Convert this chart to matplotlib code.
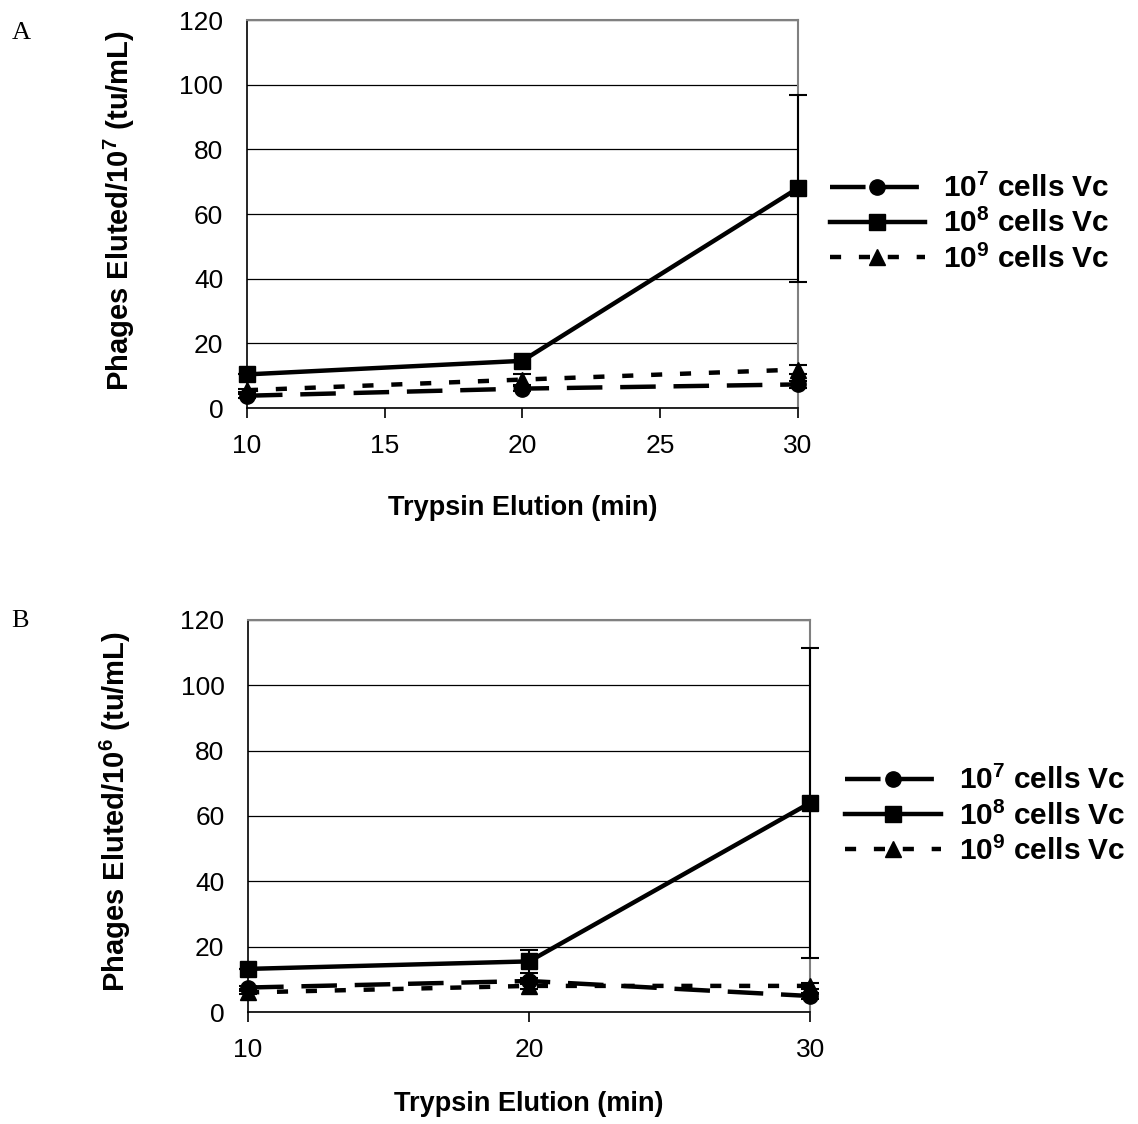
import matplotlib
matplotlib.use("Agg")
from matplotlib import pyplot as plt

plt.rcParams['font.family'] = ['Liberation Sans', 'DejaVu Sans']
plt.rcParams['mathtext.fontset'] = 'custom'
plt.rcParams['mathtext.rm'] = 'Liberation Sans'
plt.rcParams['mathtext.bf'] = 'Liberation Sans:bold'

# elution times (min)
times = [10, 20, 30]

# panel A (per 10^7)
a_cells7 = [3.8, 6.0, 7.3]
a_cells7_err = [0.6, 0.8, 1.2]
a_cells8 = [10.4, 14.6, 68.0]
a_cells8_err = [0.0, 0.0, 29.0]
a_cells9 = [5.5, 8.8, 11.9]
a_cells9_err = [0.5, 1.8, 1.5]

# panel B (per 10^6)
b_cells7 = [7.5, 9.5, 4.9]
b_cells7_err = [0.5, 1.0, 0.8]
b_cells8 = [13.2, 15.5, 64.0]
b_cells8_err = [0.0, 3.5, 47.5]
b_cells9 = [6.0, 8.0, 8.0]
b_cells9_err = [0.5, 1.0, 0.8]

labels = [r'$\mathbf{10^{7}}$ cells Vc', r'$\mathbf{10^{8}}$ cells Vc', r'$\mathbf{10^{9}}$ cells Vc']

a_xticks = [10, 15, 20, 25, 30]
b_xticks = [10, 20, 30]
yticks = [0, 20, 40, 60, 80, 100, 120]


def draw_panel(ax, c7, e7, c8, e8, c9, e9, xticks, ylabel, leg_anchor):
    common = dict(color='black', lw=3.2, capsize=6.5, elinewidth=1.5, capthick=1.5,
                  clip_on=False, zorder=3)
    l7 = ax.errorbar(times, c7, yerr=e7, dashes=(8, 4), marker='o', ms=11, **common)
    l8 = ax.errorbar(times, c8, yerr=e8, ls='-', marker='s', ms=11, **common)
    l9 = ax.errorbar(times, c9, yerr=e9, dashes=(2.5, 4), marker='^', ms=12, **common)
    for l in (l7, l8, l9):
        for part in l.lines[1] + l.lines[2]:
            part.set_clip_on(False)

    ax.set_xlim(10, 30)
    ax.set_ylim(0, 120)
    ax.set_xticks(xticks)
    ax.set_yticks(yticks)
    ax.yaxis.grid(True, color='black', lw=0.9)
    ax.set_axisbelow(True)
    ax.spines['top'].set_color('#808080')
    ax.spines['right'].set_color('#808080')
    ax.spines['top'].set_linewidth(1.5)
    ax.spines['right'].set_linewidth(1.5)
    ax.spines['left'].set_linewidth(1.2)
    ax.spines['bottom'].set_linewidth(1.2)
    ax.tick_params(axis='y', length=0, pad=17, labelsize=19)
    ax.tick_params(axis='x', length=7, width=1.2, pad=12, labelsize=19, direction='out')

    ax.set_ylabel(ylabel, fontsize=21, fontweight='bold')
    ax.set_xlabel('Trypsin Elution (min)', fontsize=19.5, fontweight='bold')

    ax.legend([l7[0], l8[0], l9[0]], labels, loc='center left', bbox_to_anchor=leg_anchor,
              frameon=False, prop={'weight': 'bold', 'size': 21.5},
              handlelength=3.2, handletextpad=0.6, labelspacing=0.2, borderpad=0, borderaxespad=0)


fig = plt.figure(figsize=(11.38, 11.24), dpi=100)

ax_a = fig.add_axes([0.217, 0.637, 0.484, 0.345])
draw_panel(ax_a, a_cells7, a_cells7_err, a_cells8, a_cells8_err, a_cells9, a_cells9_err,
           a_xticks, r'Phages Eluted/10$^{\mathbf{7}}$ (tu/mL)', (1.058, 0.475))
ax_a.yaxis.set_label_coords(-0.2, 0.51)
ax_a.xaxis.set_label_coords(0.5, -0.225)

ax_b = fig.add_axes([0.218, 0.0996, 0.494, 0.349])
draw_panel(ax_b, b_cells7, b_cells7_err, b_cells8, b_cells8_err, b_cells9, b_cells9_err,
           b_xticks, r'Phages Eluted/10$^{\mathbf{6}}$ (tu/mL)', (1.062, 0.5))
ax_b.yaxis.set_label_coords(-0.205, 0.51)
ax_b.xaxis.set_label_coords(0.5, -0.2)

fig.text(0.01, 0.965, 'A', fontsize=19, family='Liberation Serif')
fig.text(0.01, 0.442, 'B', fontsize=19, family='Liberation Serif')

fig.savefig('out.png', dpi=100)
